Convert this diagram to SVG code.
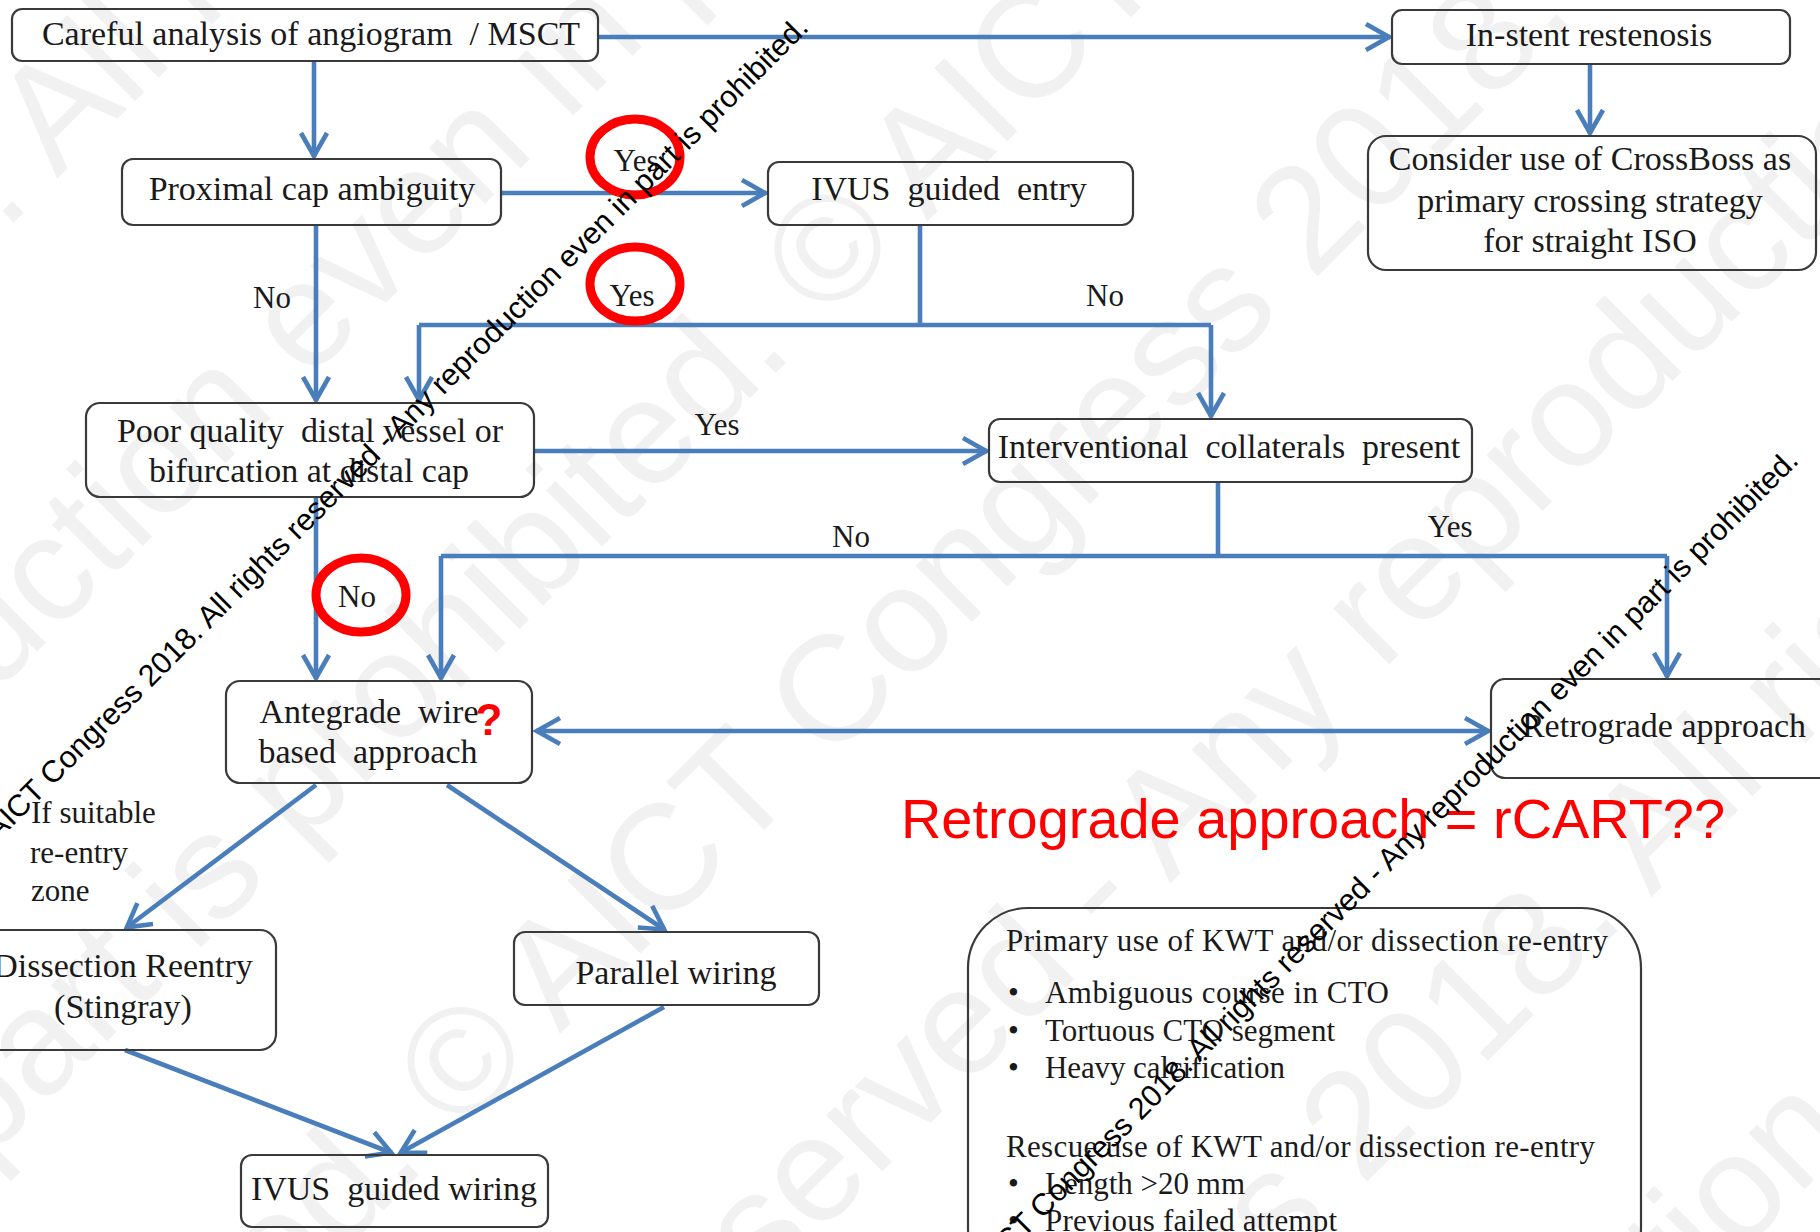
<svg xmlns="http://www.w3.org/2000/svg" width="1820" height="1232" viewBox="0 0 1820 1232">
<defs>
<style>
.box{fill:none;stroke:#3a3a3a;stroke-width:2.2}
.t{font-family:"Liberation Serif","Times New Roman",serif;font-size:34px;fill:#1a1a1a;text-anchor:middle}
.lb{font-family:"Liberation Serif","Times New Roman",serif;font-size:31px;fill:#1a1a1a;text-anchor:middle}
.bt{font-family:"Liberation Serif","Times New Roman",serif;font-size:31px;fill:#1a1a1a}
.c{fill:none;stroke:#4a7ebb;stroke-width:4.6}
.ring{fill:none;stroke:#ff0000;stroke-width:9}
.wm{font-family:"Liberation Sans",Arial,sans-serif;font-size:30.5px;fill:#000;text-anchor:end}
.fw{font-family:"Liberation Sans",Arial,sans-serif;font-size:150px;fill:#f1f1f1}
</style>
<marker id="arr" viewBox="-28 -17 32 34" refX="1" refY="0" markerWidth="32" markerHeight="34" markerUnits="userSpaceOnUse" orient="auto-start-reverse">
<path d="M-23,-13 L0,0 L-23,13" fill="none" stroke="#4a7ebb" stroke-width="4.6" stroke-linejoin="miter"/>
</marker>
</defs>
<rect width="1820" height="1232" fill="#ffffff"/>

<g id="faint-watermark" transform="rotate(-45)" class="fw">
<text x="-7539" y="167">© AICT Congress 2018. All rights reserved - Any reproduction even in part is prohibited. © AICT Congress 2018. All rights reserved - Any reproduction even in part is prohibited. © AICT Congress 2018. All rights reserved - Any reproduction even in part is prohibited.</text>
<text x="-10007" y="487">© AICT Congress 2018. All rights reserved - Any reproduction even in part is prohibited. © AICT Congress 2018. All rights reserved - Any reproduction even in part is prohibited. © AICT Congress 2018. All rights reserved - Any reproduction even in part is prohibited.</text>
<text x="-11317" y="812">© AICT Congress 2018. All rights reserved - Any reproduction even in part is prohibited. © AICT Congress 2018. All rights reserved - Any reproduction even in part is prohibited. © AICT Congress 2018. All rights reserved - Any reproduction even in part is prohibited.</text>
<text x="-6315" y="1127">© AICT Congress 2018. All rights reserved - Any reproduction even in part is prohibited. © AICT Congress 2018. All rights reserved - Any reproduction even in part is prohibited. © AICT Congress 2018. All rights reserved - Any reproduction even in part is prohibited.</text>
<text x="-8576" y="1452">© AICT Congress 2018. All rights reserved - Any reproduction even in part is prohibited. © AICT Congress 2018. All rights reserved - Any reproduction even in part is prohibited. © AICT Congress 2018. All rights reserved - Any reproduction even in part is prohibited.</text>
<text x="-6920" y="1802">© AICT Congress 2018. All rights reserved - Any reproduction even in part is prohibited. © AICT Congress 2018. All rights reserved - Any reproduction even in part is prohibited. © AICT Congress 2018. All rights reserved - Any reproduction even in part is prohibited.</text>
<text x="-9404" y="2117">© AICT Congress 2018. All rights reserved - Any reproduction even in part is prohibited. © AICT Congress 2018. All rights reserved - Any reproduction even in part is prohibited. © AICT Congress 2018. All rights reserved - Any reproduction even in part is prohibited.</text>
</g>

<g id="connectors">
<path class="c" d="M598,37 H1390" marker-end="url(#arr)"/>
<path class="c" d="M314,62 V157" marker-end="url(#arr)"/>
<path class="c" d="M1590,64 V134" marker-end="url(#arr)"/>
<path class="c" d="M501,193 H766" marker-end="url(#arr)"/>
<path class="c" d="M316,225 V401" marker-end="url(#arr)"/>
<path class="c" d="M920,225 V325"/>
<path class="c" d="M419,325 H1211"/>
<path class="c" d="M419,325 V401" marker-end="url(#arr)"/>
<path class="c" d="M1211,325 V417" marker-end="url(#arr)"/>
<path class="c" d="M534,451 H987" marker-end="url(#arr)"/>
<path class="c" d="M316,497 V679" marker-end="url(#arr)"/>
<path class="c" d="M1218,482 V556"/>
<path class="c" d="M441,556 H1667"/>
<path class="c" d="M441,556 V679" marker-end="url(#arr)"/>
<path class="c" d="M1667,556 V677" marker-end="url(#arr)"/>
<path class="c" d="M536,731 H1489" marker-start="url(#arr)" marker-end="url(#arr)"/>
<path class="c" d="M316,785 L126,928" marker-end="url(#arr)"/>
<path class="c" d="M447,785 L665,930" marker-end="url(#arr)"/>
<path class="c" d="M125,1050 L392,1153" marker-end="url(#arr)"/>
<path class="c" d="M664,1007 L400,1153" marker-end="url(#arr)"/>
</g>

<g id="edge-labels">
<text class="lb" x="272" y="308">No</text>
<text class="lb" x="636" y="171">Yes</text>
<text class="lb" x="632" y="306">Yes</text>
<text class="lb" x="1105" y="306">No</text>
<text class="lb" x="717" y="435">Yes</text>
<text class="lb" x="357" y="607">No</text>
<text class="lb" x="851" y="547">No</text>
<text class="lb" x="1450" y="537">Yes</text>
</g>

<g id="n-careful"><rect class="box" x="12" y="9" width="586" height="52" rx="10"/><text class="t" x="311" y="45" xml:space="preserve">Careful analysis of angiogram  / MSCT</text></g>
<g id="n-instent"><rect class="box" x="1392" y="10" width="398" height="54" rx="10"/><text class="t" x="1589" y="46">In-stent restenosis</text></g>
<g id="n-proximal"><rect class="box" x="122" y="159" width="379" height="66" rx="11"/><text class="t" x="312" y="200">Proximal cap ambiguity</text></g>
<g id="n-ivusentry"><rect class="box" x="768" y="162" width="365" height="63" rx="11"/><text class="t" x="949" y="200" xml:space="preserve">IVUS  guided  entry</text></g>
<g id="n-crossboss"><rect class="box" x="1368" y="136" width="448" height="134" rx="18"/>
<text class="t" x="1590" y="170">Consider use of CrossBoss as</text>
<text class="t" x="1590" y="212">primary crossing strategy</text>
<text class="t" x="1590" y="252">for straight ISO</text></g>
<g id="n-poor"><rect class="box" x="86" y="403" width="448" height="94" rx="14"/>
<text class="t" x="310" y="442" xml:space="preserve">Poor quality  distal vessel or</text>
<text class="t" x="309" y="482">bifurcation at distal cap</text></g>
<g id="n-interv"><rect class="box" x="989" y="419" width="483" height="63" rx="11"/><text class="t" x="1229" y="458" xml:space="preserve">Interventional  collaterals  present</text></g>
<g id="n-antegrade"><rect class="box" x="226" y="681" width="306" height="102" rx="14"/>
<text class="t" x="369" y="723" xml:space="preserve">Antegrade  wire</text>
<text class="t" x="368" y="763" xml:space="preserve">based  approach</text>
<text x="489" y="735" font-family="Liberation Sans,Arial,sans-serif" font-size="44" font-weight="bold" fill="#ff0000" text-anchor="middle">?</text></g>
<g id="n-retro"><rect class="box" x="1491" y="679" width="360" height="99" rx="14"/><text class="t" x="1664" y="737">Retrograde approach</text></g>
<g id="n-dissection"><rect class="box" x="-30" y="930" width="306" height="120" rx="16"/>
<text class="t" x="123" y="977">Dissection Reentry</text>
<text class="t" x="123" y="1018">(Stingray)</text></g>
<g id="n-parallel"><rect class="box" x="514" y="932" width="305" height="73" rx="11"/><text class="t" x="676" y="984">Parallel wiring</text></g>
<g id="n-ivuswiring"><rect class="box" x="241" y="1155" width="307" height="72" rx="11"/><text class="t" x="394" y="1200" xml:space="preserve">IVUS  guided wiring</text></g>
<g id="n-suitable">
<text class="bt" x="31" y="823" font-size="29">If suitable</text>
<text class="bt" x="30" y="863" font-size="29">re-entry</text>
<text class="bt" x="31" y="901" font-size="29">zone</text></g>
<g id="n-kwt"><rect class="box" x="968" y="908" width="673" height="380" rx="60"/>
<text class="bt" x="1006" y="951" textLength="602" lengthAdjust="spacing">Primary use of KWT and/or dissection re-entry</text>
<text class="bt" x="1008" y="1003">•</text><text class="bt" x="1045" y="1003" textLength="344" lengthAdjust="spacing">Ambiguous course in CTO</text>
<text class="bt" x="1008" y="1041">•</text><text class="bt" x="1045" y="1041" textLength="290" lengthAdjust="spacing">Tortuous CTO segment</text>
<text class="bt" x="1008" y="1078">•</text><text class="bt" x="1045" y="1078" textLength="240" lengthAdjust="spacing">Heavy calcification</text>
<text class="bt" x="1006" y="1157" textLength="589" lengthAdjust="spacing">Rescue use of KWT and/or dissection re-entry</text>
<text class="bt" x="1008" y="1194">•</text><text class="bt" x="1045" y="1194" textLength="200" lengthAdjust="spacing">Length &gt;20 mm</text>
<text class="bt" x="1008" y="1231">•</text><text class="bt" x="1045" y="1231" textLength="292" lengthAdjust="spacing">Previous failed attempt</text></g>

<g id="annotations">
<ellipse class="ring" cx="635" cy="157" rx="45" ry="38"/>
<ellipse class="ring" cx="635" cy="284" rx="45" ry="37"/>
<ellipse class="ring" cx="361" cy="595" rx="45" ry="37"/>
<text x="901" y="838" font-family="Liberation Sans,Arial,sans-serif" font-size="56" fill="#ff0000" textLength="824" lengthAdjust="spacingAndGlyphs">Retrograde approach = rCART??</text>
</g>

<g id="watermark">
<text class="wm" transform="translate(810,29) rotate(-45)">© AICT Congress 2018. All rights reserved - Any reproduction even in part is prohibited.</text>
<text class="wm" transform="translate(1800,462) rotate(-45)">© AICT Congress 2018. All rights reserved - Any reproduction even in part is prohibited.</text>
</g>
</svg>
